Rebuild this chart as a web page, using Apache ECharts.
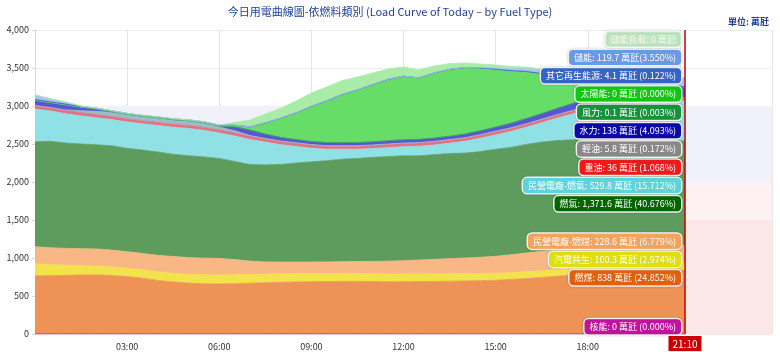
<!DOCTYPE html>
<html lang="zh-Hant">
<head>
<meta charset="utf-8">
<title>今日用電曲線圖-依燃料類別</title>
<script src="https://cdn.jsdelivr.net/npm/echarts@6/dist/echarts.min.js"></script>
<style>
  html, body { margin: 0; padding: 0; background: #fff; }
  #chart { width: 780px; height: 352px; }
</style>
</head>
<body>
<div id="chart"></div>
<script>
// 時間點 (每30分鐘, 最後一點為目前時間)
var times = ['00:00','00:30','01:00','01:30','02:00','02:30','03:00','03:30','04:00','04:30',
             '05:00','05:30','06:00','06:30','07:00','07:30','08:00','08:30','09:00','09:30',
             '10:00','10:30','11:00','11:30','12:00','12:30','13:00','13:30','14:00','14:30',
             '15:00','15:30','16:00','16:30','17:00','17:30','18:00','18:30','19:00','19:30',
             '20:00','20:30','21:00','21:10'];

// 各燃料發電量 (萬瓩), 由下往上堆疊
var nuclear = [0,0,0,0,0,0,0,0,0,0,0,0,0,0,0,0,0,0,0,0,0,0,0,0,0,0,0,0,0,0,0,0,0,0,0,0,0,0,0,0,0,0,0,0];
var coal = [765,768,772,776,778,770,755,735,705,685,670,660,658,662,668,675,680,685,688,690,
            692,692,690,688,688,690,692,695,698,702,708,718,730,745,760,775,788,800,812,822,830,835,837,838];
var cogen = [155,145,132,122,116,112,110,110,112,114,116,118,118,117,116,114,112,110,108,106,
             105,104,103,102,102,101,100,98,96,94,92,90,88,88,88,89,90,92,94,96,98,99,100,100.3];
var ippCoal = [228,222,222,225,225,222,218,215,218,220,220,220,218,200,175,160,155,152,152,153,
               155,158,162,168,175,182,190,198,206,214,222,235,248,255,255,250,245,240,235,232,230,229,229,228.6];
var lng = [1382,1400,1388,1377,1371,1372,1360,1360,1360,1346,1339,1332,1316,1291,1271,1276,1284,1303,1317,1331,
           1348,1356,1370,1377,1380,1372,1378,1384,1380,1390,1408,1412,1429,1437,1442,1441,1437,1423,1409,1398,
           1387,1379,1374,1371.6];
var ippLng = [430,400,385,370,355,345,347,345,350,355,360,350,335,335,330,300,260,218,180,150,
              130,120,115,117,120,125,127,135,155,175,190,210,227,255,295,340,385,430,470,492,510,520,526,529.8];
var oil = [45,45,44,42,40,40,38,38,38,38,38,38,38,40,42,42,42,42,42,42,
           42,42,42,42,42,42,42,42,42,42,42,42,40,40,40,40,38,38,37,36,36,36,36,36];
var diesel = [0,0,5,25,45,55,60,60,60,60,60,60,40,30,10,6,6,6,6,6,
              6,6,6,6,6,6,6,6,6,6,6,6,6,6,6,6,6,6,6,6,6,6,6,5.8];
var hydro = [68,62,65,45,30,10,3,2,2,2,2,3,15,50,70,55,45,40,38,38,
             38,38,38,40,40,40,40,42,45,48,52,58,65,72,80,90,100,110,120,128,133,136,138,138];
var wind = [3,3,3,2,2,2,2,2,2,2,2,2,2,2,2,3,3,3,3,4,
            4,4,4,4,4,4,4,4,3,3,3,3,2,2,2,1,1,1,0.5,0.3,0.2,0.1,0.1,0.1];
var solar = [0,0,0,0,0,0,0,0,0,0,0,0,0,10,32,137,241,340,450,538,
             622,680,742,796,824,796,845,867,863,817,750,682,610,518,419,336,266,197,133,86,47,26,10,0];
var otherRenew = [10,10,10,10,10,10,10,10,10,10,10,10,10,10,10,12,12,12,12,12,
                  12,12,12,12,12,12,12,12,12,12,12,10,10,9,8,7,6,5,5,4.5,4.3,4.2,4.1,4.1];
var storage = [60,40,25,5,0,0,0,0,0,0,0,0,0,0,0,0,0,0,0,0,
               0,0,0,0,0,0,0,0,0,0,15,25,38,50,60,72,85,98,108,114,118,120,120,119.7];
var storageLoad = [0,0,0,0,0,0,0,0,0,0,0,0,0,35,90,115,130,155,175,180,
                   180,170,150,135,120,105,90,75,60,50,40,30,20,10,5,0,0,0,0,0,0,0,0,0];

var nowTime = '21:10';

var myChart = echarts.init(document.getElementById('chart'));
var font = '"Noto Sans CJK TC", "Noto Sans", sans-serif';

function pad(n) { return (n < 10 ? '0' : '') + n; }

// x 軸: 00:00 ~ 24:00, 每10分鐘一格
var slots = [];
for (var m = 0; m <= 1440; m += 10) {
    slots.push(pad(Math.floor(m / 60)) + ':' + pad(m % 60));
}

// 名稱, 資料, 面積顏色, 標籤顏色
var fuels = [
    ['核能', nuclear, '#c71585', '#c0129a'],
    ['燃煤', coal, '#ee9355', '#e2600c'],
    ['汽電共生', cogen, '#f2e34c', '#dede10'],
    ['民營電廠-燃煤', ippCoal, '#f8b784', '#f5a35c'],
    ['燃氣', lng, '#5e9c5e', '#006400'],
    ['民營電廠-燃氣', ippLng, '#8fe1e6', '#5fd3dc'],
    ['重油', oil, '#e5707f', '#f01818'],
    ['輕油', diesel, '#9bbcc4', '#888888'],
    ['水力', hydro, '#5757d6', '#0a0aa8'],
    ['風力', wind, '#3aa655', '#16923a'],
    ['太陽能', solar, '#66dd66', '#10c810'],
    ['其它再生能源', otherRenew, '#3a5fc0', '#3664c4'],
    ['儲能', storage, '#a9c6f2', '#6a9ae6'],
    ['儲能負載', storageLoad, '#a8eca8', 'rgba(150,228,150,0.45)']
];

var last = times.length - 1;
var total = 0;
fuels.forEach(function (f) {
    if (f[0] !== '儲能負載') total += f[1][last];
});

function labelText(name, v) {
    var s = name + ': ' + v.toLocaleString('en-US') + ' 萬瓩';
    if (name === '儲能負載') return s;
    var pct = (v / total * 100).toFixed(3);
    if (name === '儲能') return s + '(' + pct + '%)';
    return s + ' (' + pct + '%)';
}

var labelShift = fuels.map(function () { return 0; });

function buildSeries() {
    var series = [{
        // 背景色帶
        name: 'bands',
        type: 'line',
        data: [],
        z: 1,
        silent: true,
        markArea: {
            silent: true,
            data: [
                [{yAxis: 2000, itemStyle: {color: '#f1f1fb'}}, {yAxis: 3000}],
                [{yAxis: 1500, itemStyle: {color: '#fdf2f1'}}, {yAxis: 2000}],
                [{yAxis: 0, itemStyle: {color: '#fae7e6'}}, {yAxis: 1500}]
            ]
        }
    }];

    fuels.forEach(function (f, k) {
        var isTop = k === fuels.length - 1;
        var s = {
            name: f[0],
            type: 'line',
            stack: 'total',
            showSymbol: false,
            symbol: 'none',
            z: 2,
            data: times.map(function (t, i) { return [t, f[1][i]]; }),
            lineStyle: {width: 0.8, color: f[2]},
            areaStyle: {color: f[2], opacity: 1},
            endLabel: {
                show: true,
                align: 'right',
                offset: [-12, labelShift[k]],
                formatter: function () { return labelText(f[0], f[1][last]); },
                backgroundColor: f[3],
                borderColor: '#fff',
                borderWidth: 1.5,
                borderRadius: 4,
                padding: [2, 5],
                lineHeight: 11,
                fontSize: 9,
                fontFamily: font,
                color: isTop ? 'rgba(255,255,255,0.75)' : '#fff',
                shadowColor: 'rgba(0,0,0,0.25)',
                shadowBlur: 2
            }
        };
        if (isTop) {
            s.markLine = {
                silent: true,
                symbol: ['none', 'none'],
                lineStyle: {color: '#c00000', width: 1.5, type: 'solid'},
                label: {
                    position: 'start',
                    formatter: nowTime,
                    backgroundColor: '#cc0000',
                    color: '#fff',
                    padding: [3, 4, 2, 4],
                    fontSize: 10,
                    fontFamily: font,
                    distance: 2
                },
                data: [{xAxis: nowTime}]
            };
        }
        series.push(s);
    });
    return series;
}

var option = {
    animation: false,
    title: [{
        text: '今日用電曲線圖-依燃料類別 (Load Curve of Today – by Fuel Type)',
        left: 'center',
        top: 1,
        textStyle: {color: '#1d3f96', fontSize: 11, fontWeight: 'normal', fontFamily: font}
    }, {
        text: '單位: 萬瓩',
        right: 6,
        top: 12,
        textStyle: {color: '#1d3f96', fontSize: 9, fontWeight: 'bold', fontFamily: font}
    }],
    grid: {left: 35, right: 8, top: 30, bottom: 18},
    xAxis: {
        type: 'category',
        data: slots,
        boundaryGap: false,
        axisLine: {show: false},
        axisTick: {show: false},
        axisLabel: {
            color: '#333',
            fontSize: 9,
            fontFamily: font,
            margin: 8,
            interval: function (i) { return i % 18 === 0 && i > 0 && i < 126; }
        },
        splitLine: {show: true, interval: function (i) { return i % 18 === 0; }, lineStyle: {color: '#e6e6e6'}}
    },
    yAxis: {
        type: 'value',
        min: 0,
        max: 4000,
        interval: 500,
        axisLine: {show: true, lineStyle: {color: '#d8d8d8'}},
        axisTick: {show: true, length: 3, lineStyle: {color: '#d8d8d8'}},
        axisLabel: {
            color: '#333',
            fontSize: 9,
            fontFamily: font,
            margin: 6,
            formatter: function (v) { return v.toLocaleString('en-US'); }
        },
        splitLine: {lineStyle: {color: '#ececec'}}
    },
    series: buildSeries()
};

myChart.setOption(option);

// 類似 tooltip 的標籤分散排列: 重疊的標籤合併成群組, 置中於目標位置
function distribute(boxes, minY, maxY) {
    var groups = boxes.map(function (b) { return {items: [b], size: b.size, sum: b.target}; });
    function place(g) {
        var top = g.sum / g.items.length - g.size / 2;
        g.top = Math.max(minY, Math.min(maxY - g.size, top));
    }
    groups.forEach(place);
    var merged = true;
    while (merged) {
        merged = false;
        for (var i = 0; i < groups.length - 1; i++) {
            var a = groups[i], b = groups[i + 1];
            if (a.top + a.size > b.top) {
                a.items = a.items.concat(b.items);
                a.size += b.size;
                a.sum += b.sum;
                place(a);
                groups.splice(i + 1, 1);
                merged = true;
                break;
            }
        }
    }
    groups.forEach(function (g) {
        var y = g.top;
        g.items.forEach(function (it) { it.y = y + it.size / 2; y += it.size; });
    });
}

var cum = 0;
var boxes = fuels.map(function (f, k) {
    cum += f[1][last];
    var py = myChart.convertToPixel({gridIndex: 0}, [nowTime, cum])[1];
    return {k: k, target: py, size: 18.3};
});
boxes.sort(function (a, b) { return (a.target - b.target) || (b.k - a.k); });
var gridRect = myChart.getModel().getComponent('grid').coordinateSystem.getRect();
distribute(boxes, gridRect.y, gridRect.y + gridRect.height + 2);
boxes.forEach(function (b) { labelShift[b.k] = b.y - b.target; });

option.series = buildSeries();
myChart.setOption(option, true);
</script>
</body>
</html>
